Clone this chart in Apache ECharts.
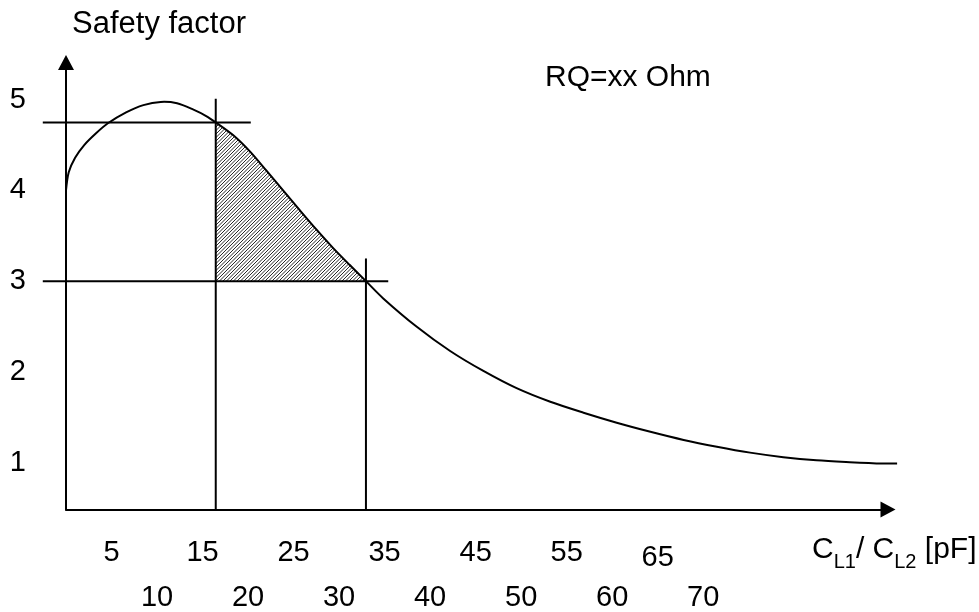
<!DOCTYPE html>
<html><head><meta charset="utf-8">
<script src="https://cdn.jsdelivr.net/npm/echarts@6/dist/echarts.min.js"></script>
<style>html,body{margin:0;padding:0;background:#fff}#c{width:979px;height:612px}</style>
</head><body><div id="c"></div>
<script>
// Safety factor curve (x: C_L1/C_L2 in pF, y: safety factor)
const curveX = [0, 0.3, 1.0, 2.0, 3.3, 4.6, 6.6, 8.5, 10.4, 12.2, 14.0, 15.4, 16.45, 18.35, 20.2, 22.0, 23.85, 25.7, 27.5, 29.3, 31.15, 32.95, 34.85, 38.5, 42.2, 45.85, 49.5, 53.2, 56.85, 60.5, 64.2, 67.85, 71.5, 75.15, 78.8, 82.45, 86.1, 89.75, 91.3];
const curveY = [4.0, 4.2, 4.36, 4.5, 4.63, 4.74, 4.86, 4.94, 4.975, 4.96, 4.89, 4.82, 4.75, 4.61, 4.43, 4.22, 4.0, 3.78, 3.57, 3.37, 3.18, 3.0, 2.81, 2.5, 2.23, 2.01, 1.82, 1.67, 1.55, 1.44, 1.34, 1.25, 1.175, 1.11, 1.06, 1.025, 1.005, 0.99, 0.99];
const yTicks = [1, 2, 3, 4, 5];
const xTicksUpper = [5, 15, 25, 35, 45, 55, 65];
const xTicksLower = [10, 20, 30, 40, 50, 60, 70];
// reference lines (data values)
const refTopX = [-2.55, 20.3], refTopY = 4.75;
const refBaseX = [-2.55, 35.4], refBaseY = 3;
const refV1X = 16.45, refV1Y = [0.483, 5.01];
const refV2X = 32.95, refV2Y = [0.483, 3.25];
const hatchFrom = 16.45, hatchTo = 32.95, hatchBase = 3;
const xMin = 0, xMax = 90.3, yMin = 0.483, yMax = 5.41;

const FONT = 'Liberation Sans, Arial, sans-serif';
function hatchCanvas() {
  const c = document.createElement('canvas'); c.width = 7; c.height = 7;
  const g = c.getContext('2d');
  g.fillStyle = '#fff'; g.fillRect(0, 0, 7, 7);
  g.strokeStyle = '#2a2a2a'; g.lineWidth = 1;
  for (const k of [-7, -3.5, 0, 3.5, 7]) { g.beginPath(); g.moveTo(k, 7); g.lineTo(k + 7, 0); g.stroke(); }
  return c;
}
const HATCH = hatchCanvas();
const curve = curveX.map((x, i) => [x, curveY[i]]);
const hatchData = curve.filter(p => p[0] >= hatchFrom && p[0] <= hatchTo);
const segments = [
  [refTopX[0], refTopY, refTopX[1], refTopY],
  [refBaseX[0], refBaseY, refBaseX[1], refBaseY],
  [refV1X, refV1Y[0], refV1X, refV1Y[1]],
  [refV2X, refV2Y[0], refV2X, refV2Y[1]]
];
const black = { color: '#000', width: 2 };
const chart = echarts.init(document.getElementById('c'), null, { renderer: 'canvas' });
chart.setOption({
  animation: false,
  backgroundColor: '#fff',
  title: [
    { text: 'Safety factor', left: 72, top: 9, padding: 0, textStyle: { fontFamily: FONT, fontSize: 31, fontWeight: 'normal', color: '#000' } },
    { text: 'RQ=xx Ohm', left: 545, top: 63, padding: 0, textStyle: { fontFamily: FONT, fontSize: 30, fontWeight: 'normal', color: '#000' } },
    { text: '{a|C}{s|L1}{a|/ C}{s|L2}{a| [pF]}', left: 812, top: 535, padding: 0,
      textStyle: { fontFamily: FONT, fontWeight: 'normal', color: '#000',
        rich: { a: { fontFamily: FONT, fontSize: 30, lineHeight: 30, color: '#000' },
                s: { fontFamily: FONT, fontSize: 20, lineHeight: 20, padding: [25, 0, 0, 0], color: '#000' } } } }
  ],
  grid: { left: 66, right: 91, top: 62.5, bottom: 98.7, containLabel: false },
  xAxis: [
    { type: 'value', min: xMin, max: xMax, position: 'bottom',
      axisLine: { show: true, lineStyle: black, symbol: ['none', 'triangle'], symbolSize: [16, 15] },
      axisTick: { show: false }, splitLine: { show: false },
      axisLabel: { customValues: xTicksLower, margin: 88, verticalAlign: 'middle', fontFamily: FONT, fontSize: 29, color: '#000' } },
    { type: 'value', min: xMin, max: xMax, position: 'bottom',
      axisLine: { show: false }, axisTick: { show: false }, splitLine: { show: false },
      axisLabel: { customValues: xTicksUpper, margin: 43, verticalAlign: 'middle', fontFamily: FONT, fontSize: 29, color: '#000',
        formatter: v => v === 65 ? '{low|65}' : '{n|' + v + '}',
        rich: { n: { fontFamily: FONT, fontSize: 29, color: '#000' },
                low: { fontFamily: FONT, fontSize: 29, color: '#000', padding: [10, 0, 0, 0] } } } }
  ],
  yAxis: {
    type: 'value', min: yMin, max: yMax,
    axisLine: { show: true, onZero: true, lineStyle: black, symbol: ['none', 'triangle'], symbolSize: [16, 15] },
    axisTick: { show: false }, splitLine: { show: false },
    axisLabel: { customValues: yTicks, margin: 40, fontFamily: FONT, fontSize: 29, color: '#000' }
  },
  series: [
    { type: 'custom', coordinateSystem: 'cartesian2d', data: hatchData, encode: { x: 0, y: 1 }, silent: true, z: 1,
      renderItem: (p, api) => {
        if (p.dataIndex !== 0) return;
        const pts = hatchData.map(c => api.coord(c));
        pts.push(api.coord([hatchTo, hatchBase]), api.coord([hatchFrom, hatchBase]));
        return { type: 'polygon', shape: { points: pts }, style: { fill: { image: HATCH, repeat: 'repeat' }, stroke: null } };
      } },
    { type: 'custom', coordinateSystem: 'cartesian2d', data: segments, encode: { x: [0, 2], y: [1, 3] }, silent: true, z: 3,
      renderItem: (p, api) => {
        const a = api.coord([api.value(0), api.value(1)]), b = api.coord([api.value(2), api.value(3)]);
        return { type: 'line', shape: { x1: a[0], y1: a[1], x2: b[0], y2: b[1] }, style: { stroke: '#000', lineWidth: 2 } };
      } },
    { type: 'custom', coordinateSystem: 'cartesian2d', data: curve, encode: { x: 0, y: 1 }, silent: true, z: 4,
      renderItem: (p, api) => {
        if (p.dataIndex !== 0) return;
        const pts = curve.map(c => api.coord(c));
        return { type: 'polyline', shape: { points: pts, smooth: 0.3 }, style: { stroke: '#000', lineWidth: 2, fill: null } };
      } }
  ]
});
</script></body></html>
